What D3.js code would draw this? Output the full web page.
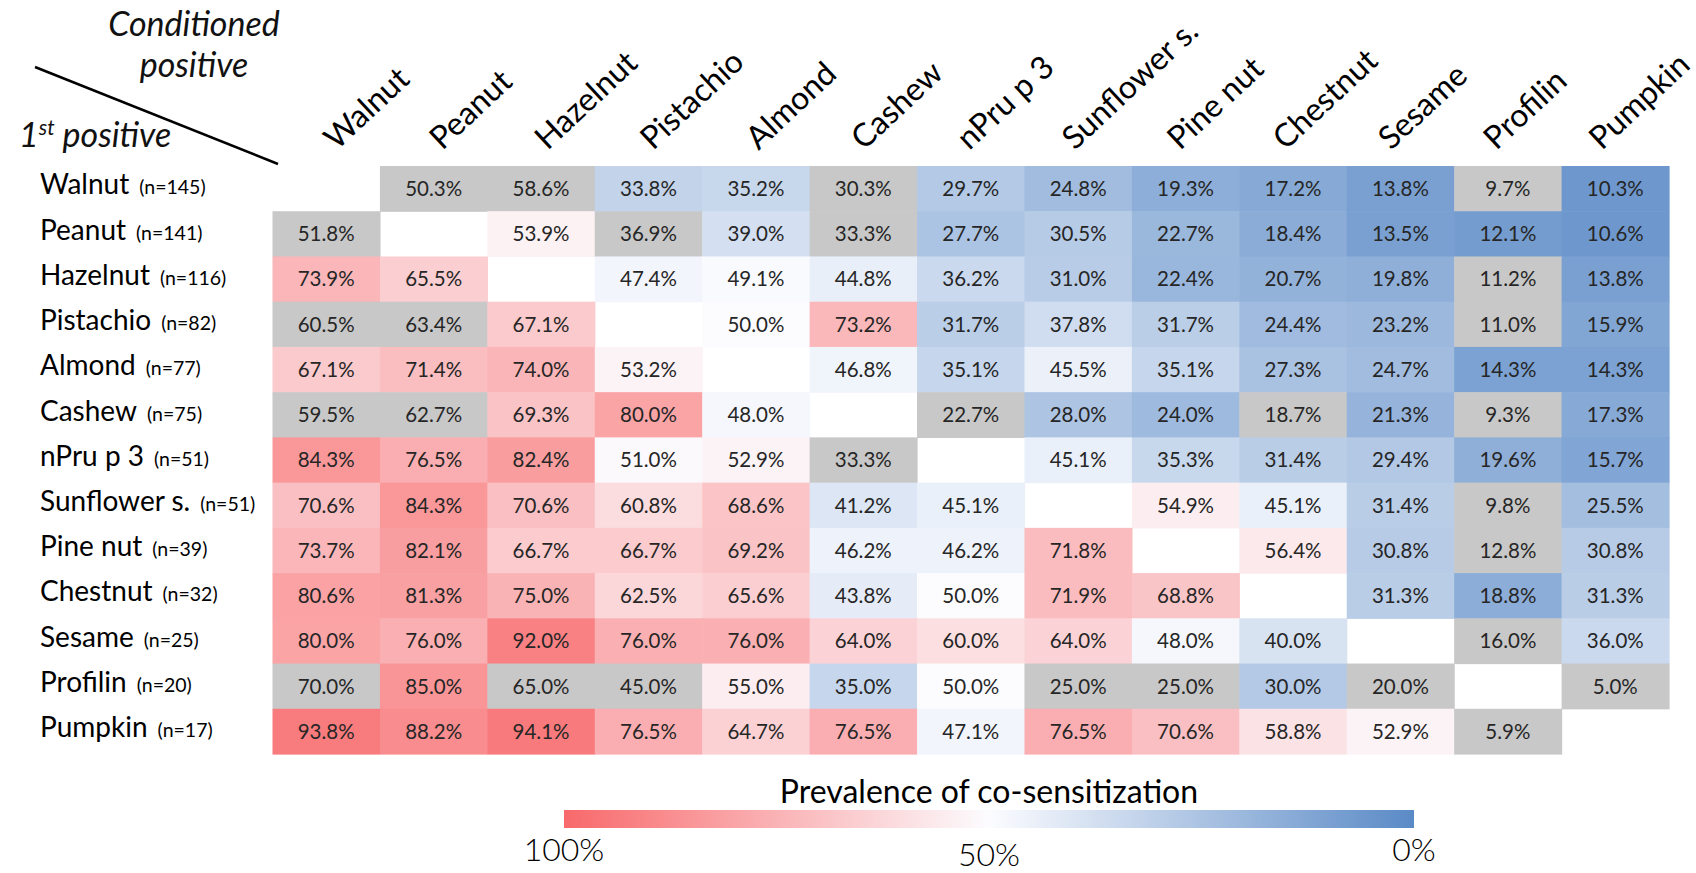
<!DOCTYPE html>
<html>
<head>
  <meta charset="UTF-8">
  <title>Co-sensitization heatmap</title>
  <style>
    body { margin: 0; background: #fff; }
    svg { display: block; font-family: Lato, "Open Sans", sans-serif; }
  </style>
</head>
<body>
<svg id="chart"></svg>
<script src="https://d3js.org/d3.v7.min.js"></script>
<script>

let width = 1696, height = 873;

// allergens, same order for rows (1st positive) and columns (conditioned positive)
var allergens = ["Walnut", "Peanut", "Hazelnut", "Pistachio", "Almond", "Cashew", "nPru p 3",
                 "Sunflower s.", "Pine nut", "Chestnut", "Sesame", "Profilin", "Pumpkin"]
var sampleSizes = [145, 141, 116, 82, 77, 75, 51, 51, 39, 32, 25, 20, 17]

// prevalence of co-sensitization (%), row = 1st positive, column = conditioned positive
var prevalence = [
  [null, 50.3, 58.6, 33.8, 35.2, 30.3, 29.7, 24.8, 19.3, 17.2, 13.8, 9.7, 10.3],
  [51.8, null, 53.9, 36.9, 39.0, 33.3, 27.7, 30.5, 22.7, 18.4, 13.5, 12.1, 10.6],
  [73.9, 65.5, null, 47.4, 49.1, 44.8, 36.2, 31.0, 22.4, 20.7, 19.8, 11.2, 13.8],
  [60.5, 63.4, 67.1, null, 50.0, 73.2, 31.7, 37.8, 31.7, 24.4, 23.2, 11.0, 15.9],
  [67.1, 71.4, 74.0, 53.2, null, 46.8, 35.1, 45.5, 35.1, 27.3, 24.7, 14.3, 14.3],
  [59.5, 62.7, 69.3, 80.0, 48.0, null, 22.7, 28.0, 24.0, 18.7, 21.3, 9.3, 17.3],
  [84.3, 76.5, 82.4, 51.0, 52.9, 33.3, null, 45.1, 35.3, 31.4, 29.4, 19.6, 15.7],
  [70.6, 84.3, 70.6, 60.8, 68.6, 41.2, 45.1, null, 54.9, 45.1, 31.4, 9.8, 25.5],
  [73.7, 82.1, 66.7, 66.7, 69.2, 46.2, 46.2, 71.8, null, 56.4, 30.8, 12.8, 30.8],
  [80.6, 81.3, 75.0, 62.5, 65.6, 43.8, 50.0, 71.9, 68.8, null, 31.3, 18.8, 31.3],
  [80.0, 76.0, 92.0, 76.0, 76.0, 64.0, 60.0, 64.0, 48.0, 40.0, null, 16.0, 36.0],
  [70.0, 85.0, 65.0, 45.0, 55.0, 35.0, 50.0, 25.0, 25.0, 30.0, 20.0, null, 5.0],
  [93.8, 88.2, 94.1, 76.5, 64.7, 76.5, 47.1, 76.5, 70.6, 58.8, 52.9, 5.9, null]
]

// cells shown in grey (per row, the conditioned allergens)
var greyCells = [
  ["Peanut", "Hazelnut", "Cashew", "Profilin"],
  ["Walnut", "Pistachio", "Cashew"],
  ["Profilin"],
  ["Walnut", "Peanut", "Profilin"],
  [],
  ["Walnut", "Peanut", "nPru p 3", "Chestnut", "Profilin"],
  ["Cashew"],
  ["Profilin"],
  ["Profilin"],
  [],
  ["Profilin"],
  ["Walnut", "Hazelnut", "Pistachio", "Sunflower s.", "Pine nut", "Sesame", "Pumpkin"],
  ["Profilin"]
]

var legendTicks = [100, 50, 0]

let svg = d3.select("#chart")
    .attr("width", width)
    .attr("height", height)

let x = d3.scaleBand().domain(allergens).range([272.5, 1669])
let y = d3.scaleBand().domain(allergens).range([166, 754])

let allValues = prevalence.flat().filter(v => v != null)
let minVal = d3.min(allValues)
let color = d3.scaleLinear()
    .domain([minVal, 50, 100])
    .range(["#5A8AC6", "#FCFCFF", "#F8696B"])

// flatten matrix into cells
let cells = []
prevalence.forEach((row, i) => {
    row.forEach((v, j) => {
        if (v == null) return
        cells.push({
            row: allergens[i],
            col: allergens[j],
            value: v,
            grey: greyCells[i].indexOf(allergens[j]) >= 0
        })
    })
})

// Cells
let cellG = svg.append("g").attr("id", "cells")
cellG.selectAll("rect")
    .data(cells)
    .enter()
    .append("rect")
    .attr("x", d => x(d.col))
    .attr("y", d => y(d.row))
    .attr("width", x.bandwidth() + 0.6)
    .attr("height", y.bandwidth() + 0.6)
    .attr("fill", d => d.grey ? "#C8C8C8" : color(d.value))

cellG.selectAll("text")
    .data(cells)
    .enter()
    .append("text")
    .attr("x", d => x(d.col) + x.bandwidth() / 2)
    .attr("y", d => y(d.row) + y.bandwidth() / 2)
    .attr("dy", "0.36em")
    .attr("text-anchor", "middle")
    .style("font-size", "20.5px")
    .style("fill", "#262626")
    .text(d => d.value.toFixed(1) + "%")

// Column labels (conditioned positive) - label spacing a bit tighter than the columns
let half = x.bandwidth() / 2
let labelX = d3.scalePoint().domain(allergens)
    .range([x(allergens[0]) + half + 10, x(allergens[allergens.length - 1]) + half - 14])
let colAxis = svg.append("g")
    .attr("transform", "translate(0,151)")
    .call(d3.axisTop(labelX).tickSize(0))
colAxis.select(".domain").remove()
colAxis.selectAll("text")
    .attr("x", 0)
    .attr("y", 0)
    .attr("dy", 0)
    .attr("transform", "rotate(-43)")
    .style("text-anchor", "start")
    .style("font-size", "32px")
    .style("font-family", "Lato, sans-serif")
    .style("fill", "#000")

// Row labels (1st positive)
let rowLab = svg.append("g").selectAll("text")
    .data(allergens)
    .enter()
    .append("text")
    .attr("x", 40)
    .attr("y", d => y(d) + y.bandwidth() / 2)
    .attr("dy", "0.36em")
    .style("fill", "#000")
rowLab.append("tspan")
    .style("font-size", "28px")
    .text(d => d)
rowLab.append("tspan")
    .attr("dx", 10)
    .style("font-size", "19.5px")
    .text((d, i) => "(n=" + sampleSizes[i] + ")")

// Corner header
svg.append("line")
    .attr("x1", 35).attr("y1", 67)
    .attr("x2", 278).attr("y2", 164)
    .attr("stroke", "#000")
    .attr("stroke-width", 2.5)

let hdr = svg.append("g")
    .style("font-style", "italic")
    .style("font-size", "34px")
    .style("fill", "#111")
hdr.append("text").attr("x", 194).attr("y", 36).attr("text-anchor", "middle").text("Conditioned")
hdr.append("text").attr("x", 194).attr("y", 77).attr("text-anchor", "middle").text("positive")
let first = hdr.append("text").attr("x", 19).attr("y", 147)
first.append("tspan").text("1")
first.append("tspan").attr("dy", -12).style("font-size", "21px").text("st")
first.append("tspan").attr("dy", 12).text(" positive")

// Legend
let lx = d3.scaleLinear().domain([100, 0]).range([564, 1414])

let grad = svg.append("defs").append("linearGradient")
    .attr("id", "legendGrad")
    .attr("x1", "0%").attr("x2", "100%")
grad.selectAll("stop")
    .data(legendTicks)
    .enter()
    .append("stop")
    .attr("offset", d => (100 - d) + "%")
    .attr("stop-color", (d, i) => ["#F8696B", "#FCFCFF", "#5A8AC6"][i])

svg.append("rect")
    .attr("x", lx(100))
    .attr("y", 810)
    .attr("width", lx(0) - lx(100))
    .attr("height", 18)
    .attr("fill", "url(#legendGrad)")

svg.append("text")
    .attr("x", lx(50))
    .attr("y", 803)
    .attr("text-anchor", "middle")
    .style("font-size", "32px")
    .style("fill", "#000")
    .text("Prevalence of co-sensitization")

svg.append("g").selectAll("text")
    .data(legendTicks)
    .enter()
    .append("text")
    .attr("x", d => lx(d))
    .attr("y", d => d == 50 ? 866 : 861)
    .attr("text-anchor", "middle")
    .style("font-size", "32px")
    .style("font-weight", 300)
    .style("fill", "#000")
    .text(d => d + "%")

</script>
</body>
</html>
